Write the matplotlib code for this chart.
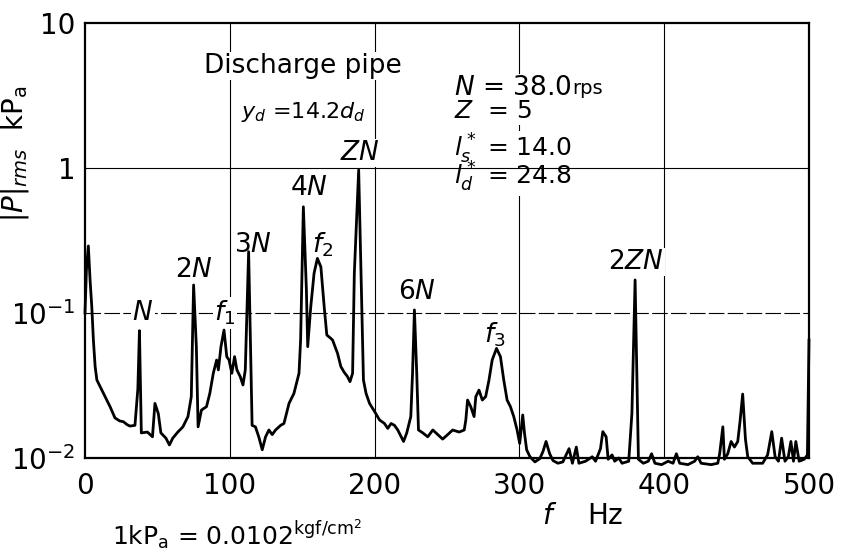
import matplotlib
matplotlib.use("Agg")
import matplotlib.pyplot as plt

plt.rcParams['font.family'] = ['DejaVu Sans']
plt.rcParams['mathtext.fontset'] = 'dejavusans'

# spectrum (Hz, kPa)
freq = [0, 1, 2.3, 3.5, 4.7, 5.8, 7.0, 8.2, 12.7, 17.3, 20.7, 24, 26.5, 29, 31, 34.5, 36.5,
        37.6, 38.9, 43.1, 46.6, 48.3, 50.6, 52.4, 55.9, 58.3, 60.6, 64.1, 67.6, 71.1, 73.4,
        75.0, 76.9, 78.1, 80.4, 83.9, 86.2, 88.6, 90.9, 92.1, 93.9, 96.0, 97.9, 99.5, 101.4,
        103.3, 104.9, 107.2, 109.1, 110.7, 113.0, 115.4, 117.7, 120.0, 122.4, 124.7, 127.0,
        129.3, 131.6, 135.1, 137.4, 140.9, 144.3, 147.8, 148.9, 150.8, 152.9, 153.8, 155.9,
        158.2, 160.5, 162.9, 165.2, 167.0, 169.8, 171, 174.4, 176.7, 179.0, 181.3, 183.0,
        184.8, 186.0, 189.0, 190.6, 192.3, 194.1, 196.5, 200, 203.4, 206.8, 209.1, 211.4,
        213.7, 216.0, 220.0, 222.2, 225.0, 226.2, 227.5, 229.1, 230.3, 233.3, 236.7, 240.2,
        243.6, 247.0, 250.5, 253.9, 258.4, 261.9, 263, 264.2, 266.4, 268.7, 269.9, 272.1,
        274.4, 276.7, 279.0, 281.2, 284.2, 286.9, 289.2, 291.5, 293.8, 296.1, 298.4, 300.2,
        302.3, 303.5, 305.0, 307.3, 310.7, 314.1, 316.3, 318.4, 320.9, 323.2, 326.6, 330.0,
        332.3, 334.3, 336.6, 339.3, 341.1, 345.7, 350.3, 352.6, 356.0, 357.6, 359.9, 361.3,
        364.0, 365.8, 368.6, 370.9, 375.5, 377.7, 379.9, 382.2, 385.6, 389.0, 391.3, 393.6,
        398.2, 402.7, 406.1, 408.4, 410.7, 416.4, 421.0, 423.2, 425.5, 432.4, 437, 438.3,
        440.5, 441.6, 443.9, 446.2, 448.5, 450.8, 452.4, 454.2, 456.1, 457.7, 461.1, 468.0,
        471.4, 474.3, 476.6, 478.9, 481.1, 483.4, 485.7, 487.5, 489.3, 490.9, 493.2, 496.7,
        498.9, 500]
p_rms = [0.1, 0.2, 0.29, 0.169, 0.11, 0.065, 0.0427, 0.0345, 0.028, 0.0226, 0.0189, 0.018,
         0.0178, 0.017, 0.0166, 0.0168, 0.03, 0.0755, 0.0149, 0.0151, 0.014, 0.0238, 0.0203,
         0.0149, 0.0137, 0.0123, 0.0137, 0.0151, 0.0164, 0.0193, 0.0265, 0.156, 0.0586,
         0.0164, 0.0214, 0.0226, 0.0279, 0.0384, 0.0474, 0.0405, 0.0586, 0.0763, 0.05,
         0.0474, 0.0384, 0.05, 0.0405, 0.0364, 0.0319, 0.0405, 0.265, 0.0168, 0.0164, 0.014,
         0.0114, 0.014, 0.0156, 0.0145, 0.0156, 0.0168, 0.0173, 0.0238, 0.0279, 0.0384,
         0.065, 0.54, 0.144, 0.0586, 0.110, 0.188, 0.238, 0.208, 0.110, 0.0705, 0.0668,
         0.065, 0.0527, 0.0427, 0.039, 0.0364, 0.0336, 0.0384, 0.188, 0.97, 0.188, 0.0345,
         0.0279, 0.0238, 0.0209, 0.0183, 0.0173, 0.016, 0.0173, 0.0168, 0.0156, 0.013,
         0.0149, 0.0193, 0.0384, 0.105, 0.0384, 0.0156, 0.0149, 0.014, 0.0156, 0.0145,
         0.0135, 0.0145, 0.0156, 0.0151, 0.0156, 0.0183, 0.0251, 0.0226, 0.0193, 0.0265,
         0.0294, 0.0251, 0.0265, 0.0345, 0.0474, 0.057, 0.050, 0.0345, 0.0251, 0.0226,
         0.0193, 0.0156, 0.0126, 0.0198, 0.0149, 0.0114, 0.0102, 0.0094, 0.0099, 0.0111,
         0.013, 0.0107, 0.0096, 0.0092, 0.0094, 0.0105, 0.0116, 0.0092, 0.0119, 0.0092,
         0.0095, 0.0102, 0.0095, 0.0116, 0.0152, 0.014, 0.0098, 0.0105, 0.0095, 0.01,
         0.0092, 0.0095, 0.0203, 0.169, 0.0098, 0.0092, 0.0095, 0.0107, 0.0092, 0.009,
         0.0095, 0.0092, 0.0107, 0.0092, 0.009, 0.0095, 0.0102, 0.0092, 0.009, 0.0092,
         0.0107, 0.0164, 0.0098, 0.0107, 0.013, 0.0119, 0.013, 0.018, 0.0276, 0.0135,
         0.0102, 0.0092, 0.0092, 0.0105, 0.0152, 0.0102, 0.0095, 0.0137, 0.0095, 0.0102,
         0.013, 0.0095, 0.013, 0.0095, 0.0098, 0.0105, 0.065]

x_ticks = [0, 100, 200, 300, 400, 500]
y_ticks = [0.01, 0.1, 1, 10]
y_tick_labels = ['10$^{-2}$', '10$^{-1}$', '1', '10']

# peak labels: text, frequency, level
peak_labels = ['$N$', '2$N$', '$f_1$', '3$N$', '4$N$', '$f_2$', '$ZN$', '6$N$', '$f_3$', '2$ZN$']
peak_freq = [39.9, 75.5, 96.5, 116, 154.3, 164, 189.8, 229, 283, 380.3]
peak_level = [0.1, 0.198, 0.1, 0.294, 0.728, 0.294, 1.27, 0.14, 0.0705, 0.225]

# operating conditions block
cond_labels = [r'$Z$  = 5', r'$l_s^*$ = 14.0', r'$l_d^*$ = 24.8']
cond_level = [2.21, 1.19, 0.763]

fig = plt.figure(figsize=(8.41, 5.56), dpi=100)
ax = fig.add_axes([85 / 841, 1 - 458 / 556, 724 / 841, 435 / 556])

ax.set_yscale('log')
ax.set_xlim(0, 500)
ax.set_ylim(0.01, 10)

for xv in x_ticks[1:-1]:
    ax.axvline(xv, color='black', lw=0.8, zorder=1)
ax.axhline(1, color='black', lw=0.8, zorder=2.5)
ax.axhline(0.1, color='black', lw=0.8, ls=(0, (14, 3)), zorder=1)

ax.plot(freq, p_rms, color='black', lw=2.0, clip_on=False, zorder=3)

ax.set_xticks(x_ticks)
ax.set_yticks(y_ticks)
ax.set_yticklabels(y_tick_labels)
ax.minorticks_off()
ax.tick_params(axis='both', length=0, labelsize=20)
ax.tick_params(axis='x', pad=10)
ax.tick_params(axis='y', pad=7)
for s in ax.spines.values():
    s.set_linewidth(1.6)

ax.set_ylabel(r'$|P|_{rms}$  kP$_{\rm a}$', fontsize=20)
ax.yaxis.set_label_coords(-0.075, 0.70)
ax.set_xlabel(r'$f$    Hz', fontsize=20)
ax.xaxis.set_label_coords(0.688, -0.10)

wbox = dict(facecolor='white', edgecolor='none', pad=1)

for lab, fx, py in zip(peak_labels, peak_freq, peak_level):
    ax.text(fx, py, lab, fontsize=19, ha='center', va='center', zorder=2, bbox=wbox)

ax.text(150.7, 5.05, 'Discharge pipe', fontsize=19, ha='center', va='center', zorder=2,
        bbox=wbox)
ax.text(150.7, 2.43, r'$y_d$ =14.2$d_d$', fontsize=16, ha='center', va='center', zorder=2,
        bbox=wbox)

# conditions: white boxes first (hidden text), then the glyphs on top
for box_pass in (True, False):
    kw = dict(bbox=wbox, color='none', zorder=2) if box_pass else dict(zorder=2.4)
    t = ax.text(255, 3.19, r'$N$ = 38.0', fontsize=19, ha='left', va='baseline', **kw)
    ax.annotate('rps', xy=(1, 0.1), xycoords=t, fontsize=14, ha='left', va='bottom', **kw)
    for lab, py in zip(cond_labels, cond_level):
        ax.text(255, py, lab, fontsize=18, ha='left', va='baseline', **kw)

fig.text(112 / 841, 0.038, r'1kP$_{\rm a}$ = 0.0102$^{\rm kgf/cm^2}$', fontsize=18,
         ha='left', va='center')

fig.savefig('out.png', dpi=100)
